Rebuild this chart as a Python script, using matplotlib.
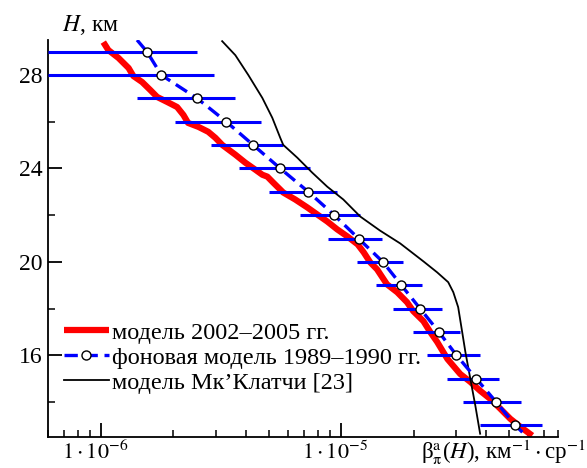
import numpy as np
import matplotlib
matplotlib.use("Agg")
import matplotlib.pyplot as plt
from matplotlib.ticker import FixedLocator, FixedFormatter, NullFormatter
from matplotlib.transforms import ScaledTranslation

plt.rcParams["font.family"] = ["Liberation Serif", "DejaVu Serif"]
plt.rcParams["mathtext.fontset"] = "stix"

# background model 1989-1990 (points with error bars)
h_bg = [29, 28, 27, 26, 25, 24, 23, 22, 21, 20, 19, 18, 17, 16, 15, 14, 13]
beta_bg = [1.55e-6, 1.78e-6, 2.51e-6, 3.32e-6, 4.30e-6, 5.57e-6, 7.29e-6, 9.35e-6,
           11.8e-6, 14.9e-6, 17.8e-6, 21.3e-6, 25.5e-6, 30.2e-6, 36.5e-6, 44.2e-6, 53.1e-6]
err_bg = [0.95e-6, 1.18e-6, 1.10e-6, 1.30e-6, 1.44e-6, 1.83e-6, 2.28e-6, 2.63e-6,
          3.0e-6, 3.26e-6, 3.9e-6, 4.9e-6, 5.6e-6, 7.5e-6, 8.9e-6, 12.1e-6, 15.4e-6]
# dashed curve continues past the end points
h_bg_top, beta_bg_top = 29.5, 1.41e-6
h_bg_bot, beta_bg_bot = 12.5, 5.96e-5

# model 2002-2005 (red)
h_new = [29.41, 29.07, 28.73, 28.30, 27.96, 27.70, 27.36, 27.06, 26.85, 26.63, 26.29,
         25.95, 25.78, 25.57, 25.31, 25.01, 24.59, 24.25, 23.95, 23.73, 23.65, 23.39,
         22.97, 22.67, 22.33, 22.03, 21.73, 21.39, 21.09, 20.75, 20.41, 19.98, 19.68,
         19.04, 18.70, 18.27, 17.89, 17.46, 16.99, 16.57, 16.14, 15.84, 15.20, 14.86,
         14.48, 14.13, 13.71, 13.28, 12.94, 12.56]
beta_new = [1.02e-6, 1.07e-6, 1.18e-6, 1.30e-6, 1.36e-6, 1.48e-6, 1.60e-6, 1.71e-6,
            1.88e-6, 2.07e-6, 2.20e-6, 2.30e-6, 2.54e-6, 2.79e-6, 2.99e-6, 3.19e-6,
            3.62e-6, 3.98e-6, 4.38e-6, 4.69e-6, 4.92e-6, 5.21e-6, 5.73e-6, 6.43e-6,
            7.22e-6, 7.94e-6, 8.74e-6, 9.62e-6, 10.6e-6, 11.7e-6, 12.4e-6, 13.2e-6,
            14.1e-6, 15.5e-6, 17.1e-6, 18.8e-6, 19.95e-6, 22.0e-6, 23.5e-6, 25.1e-6,
            26.6e-6, 27.7e-6, 31.3e-6, 34.5e-6, 37.9e-6, 41.8e-6, 46.0e-6, 50.6e-6,
            55.7e-6, 62.5e-6]

# McClatchey model (black)
h_mc = [29.45, 28.85, 28.0, 27.02, 26.17, 25.31, 25.01, 24.46, 23.82, 23.22, 22.67,
        21.94, 21.34, 20.79, 20.02, 19.55, 19.13, 18.70, 18.06, 17.0, 16.14, 14.99,
        13.84, 12.64]
beta_mc = [3.19e-6, 3.62e-6, 4.10e-6, 4.69e-6, 5.16e-6, 5.57e-6, 5.73e-6, 6.56e-6,
           7.57e-6, 8.74e-6, 10.2e-6, 12.0e-6, 14.5e-6, 17.6e-6, 22.0e-6, 25.1e-6,
           27.9e-6, 29.3e-6, 30.7e-6, 31.9e-6, 32.9e-6, 34.5e-6, 36.2e-6, 37.9e-6]

labels = ["модель 2002\u20132005 гг.",
          "фоновая модель 1989\u20131990 гг.",
          "модель Мк\u2019Клатчи [23]"]

FS = 17

fig = plt.figure(figsize=(5.87, 4.68), dpi=100)
ax = fig.add_axes([48 / 587, 1 - 437 / 468, 510 / 587, 397 / 468])

ax.plot(beta_new, h_new, color="#ff0000", lw=4.5, solid_capstyle="butt",
        label=labels[0], zorder=2)

ax.errorbar(beta_bg, h_bg, xerr=err_bg, fmt="none", ecolor="#0000ff",
            elinewidth=2.2, capsize=0, zorder=3)
line_x = [beta_bg_top] + beta_bg + [beta_bg_bot]
line_h = [h_bg_top] + h_bg + [h_bg_bot]
ax.plot(line_x, line_h, color="#0000ff", lw=2.4, dashes=(4, 2),
        marker="o", markevery=slice(1, -1), ms=6.5, mfc="white", mec="black",
        mew=1.0, label=labels[1], zorder=4)

ax.plot(beta_mc, h_mc, color="black", lw=1.3, label=labels[2], zorder=3)

ax.set_xscale("log")
ax.set_xlim(6e-7, 8e-5)
ax.set_ylim(12.5, 29.5)

ax.spines["top"].set_visible(False)
ax.spines["right"].set_visible(False)
for s in ("left", "bottom"):
    ax.spines[s].set_linewidth(1.3)

ax.xaxis.set_major_locator(FixedLocator([1e-6, 1e-5]))
ax.xaxis.set_major_formatter(FixedFormatter([r"$1\cdot10^{-6}$", r"$1\cdot10^{-5}$"]))
ax.xaxis.set_minor_formatter(NullFormatter())
ax.yaxis.set_major_locator(FixedLocator([16, 20, 24, 28]))
ax.yaxis.set_minor_locator(FixedLocator([14, 18, 22, 26]))
ax.tick_params(which="major", direction="in", length=10, width=1.3,
               labelsize=FS, pad=5)
ax.tick_params(which="minor", direction="in", length=5, width=1.1)
ax.tick_params(axis="y", which="major", pad=4)
ax.tick_params(axis="x", which="major", labelsize=16, pad=3)
shift = ScaledTranslation(-6 / 100, 0, fig.dpi_scale_trans)
for lab in ax.get_xticklabels():
    lab.set_transform(lab.get_transform() + shift)

fig.text(62 / 587, 1 - 25 / 468, r"$H$, км", fontsize=FS, ha="left", va="center")
fig.text(0.997, 1 - 452 / 468,
         r"β$^{\mathrm{a}}_{\mathrm{π}}$($H$), км$^{-1}\cdot$ср$^{-1}$",
         fontsize=16.5, ha="right", va="center")

ax.legend(loc="upper left", bbox_to_anchor=(0.012, 0.315), frameon=False,
          fontsize=17.5, handlelength=1.85, handletextpad=0.15, labelspacing=0.12,
          borderaxespad=0, numpoints=1)

fig.savefig("out.png", dpi=100)
